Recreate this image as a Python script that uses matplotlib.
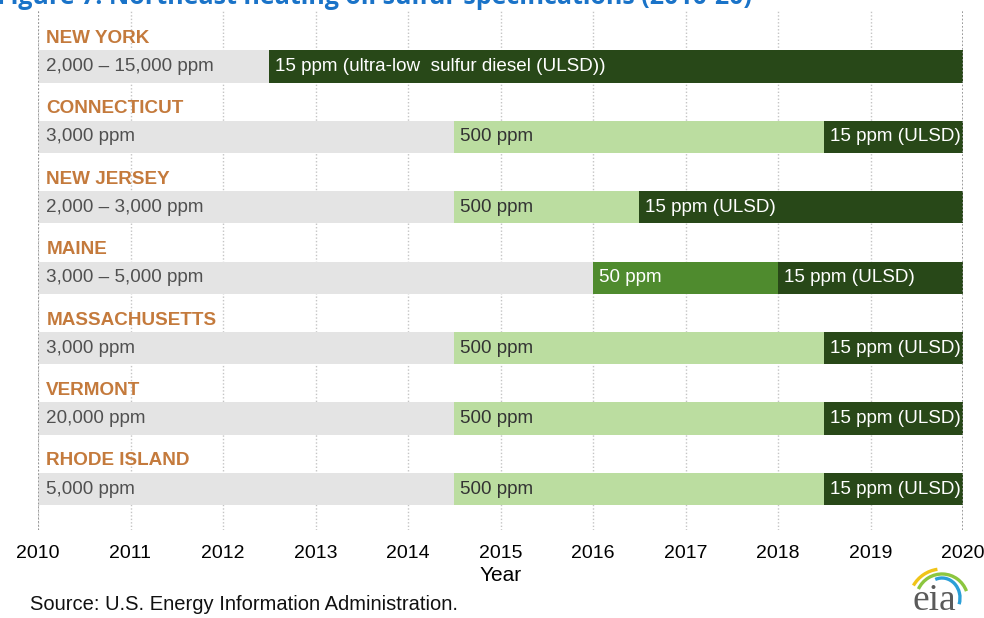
import matplotlib
matplotlib.use("Agg")
import matplotlib.pyplot as plt
from matplotlib.patches import Arc

# ---- data ----
states = ["NEW YORK", "CONNECTICUT", "NEW JERSEY", "MAINE",
          "MASSACHUSETTS", "VERMONT", "RHODE ISLAND"]
start_year = 2010
end_year = 2020
pre_labels = ["2,000 – 15,000 ppm", "3,000 ppm", "2,000 – 3,000 ppm",
              "3,000 – 5,000 ppm", "3,000 ppm", "20,000 ppm", "5,000 ppm"]
phase1_start = [None, 2014.5, 2014.5, 2016.0, 2014.5, 2014.5, 2014.5]
phase1_labels = [None, "500 ppm", "500 ppm", "50 ppm", "500 ppm", "500 ppm", "500 ppm"]
ulsd_start = [2012.5, 2018.5, 2016.5, 2018.0, 2018.5, 2018.5, 2018.5]
ulsd_labels = ["15 ppm (ultra-low  sulfur diesel (ULSD))", "15 ppm (ULSD)",
               "15 ppm (ULSD)", "15 ppm (ULSD)", "15 ppm (ULSD)",
               "15 ppm (ULSD)", "15 ppm (ULSD)"]
years = list(range(2010, 2021))

# ---- style ----
C_GRAY = "#E4E4E4"
C_LIGHT = "#BBDDA0"
C_MED = "#4F8B2E"
C_DARK = "#284818"
C_STATE = "#C47A3C"
NARROW = ["Liberation Sans Narrow", "Liberation Sans", "DejaVu Sans"]
SANS = ["Liberation Sans", "DejaVu Sans"]
FS = 13.6

fig = plt.figure(figsize=(9.84, 6.18), dpi=100)
ax = fig.add_axes([38 / 984, 1 - 530 / 618, 925 / 984, 520 / 618])

bar_h = 0.46
for i, st in enumerate(states):
    first_colored = phase1_start[i] if phase1_start[i] is not None else ulsd_start[i]
    ax.barh(i, first_colored - start_year, left=start_year, height=bar_h,
            color=C_GRAY, zorder=2)
    ax.annotate(pre_labels[i], (start_year, i), xytext=(6, 0), textcoords="offset points",
                va="center", ha="left", fontsize=FS, color="#505050", family=SANS, zorder=5)
    if phase1_start[i] is not None:
        col = C_MED if phase1_labels[i].startswith("50 ") else C_LIGHT
        tcol = "white" if col == C_MED else "#333333"
        ax.barh(i, ulsd_start[i] - phase1_start[i], left=phase1_start[i], height=bar_h,
                color=col, zorder=2)
        ax.annotate(phase1_labels[i], (phase1_start[i], i), xytext=(4, 0),
                    textcoords="offset points", va="center", ha="left",
                    fontsize=FS, color=tcol, family=SANS, zorder=5)
    ax.barh(i, end_year - ulsd_start[i], left=ulsd_start[i], height=bar_h,
            color=C_DARK, zorder=2)
    ax.annotate(ulsd_labels[i], (ulsd_start[i], i), xytext=(4, 0),
                textcoords="offset points", va="center", ha="left",
                fontsize=FS, color="white", family=SANS, zorder=5)
    ax.annotate(st, (start_year, i - 0.40), xytext=(6, 0), textcoords="offset points",
                va="center", ha="left", fontsize=FS, fontweight="bold",
                color=C_STATE, family=SANS, zorder=5)

ax.set_xlim(start_year, end_year)
ax.set_ylim(6.58, -0.80)
ax.set_xticks(years)
ax.set_xticklabels([str(y) for y in years], family=NARROW, fontsize=14)
ax.tick_params(axis="x", length=0, pad=11)
ax.set_yticks([])
for s in ax.spines.values():
    s.set_visible(False)
ax.grid(axis="x", linestyle=(0, (1, 1.5)), color="#C4C4C4", linewidth=1, zorder=0)
ax.set_axisbelow(True)
for xv in (start_year, end_year):
    ax.axvline(xv, color="#8A8A8A", linestyle=(0, (1, 1.2)), linewidth=1.2, zorder=6)

ax.set_xlabel("Year", family=NARROW, fontsize=15, labelpad=3)

# title (partially cut off at the top, as in the reference)
fig.text(-0.003, 1 - 4 / 618, "Figure 7. Northeast heating oil sulfur specifications (2010-20)",
         fontsize=18, fontweight="bold", color="#1A73C8", ha="left", va="baseline",
         family=["Open Sans", "DejaVu Sans"])

fig.text(30 / 984, 1 - 605 / 618, "Source: U.S. Energy Information Administration.",
         fontsize=14.5, family=NARROW, ha="left", va="center", color="#111111")

# eia logo (pixel coordinates inside a small axes)
lax = fig.add_axes([890 / 984, 0, 94 / 984, 63 / 618])
lax.set_xlim(890, 984)
lax.set_ylim(618, 555)
lax.axis("off")
lax.text(934, 610, "eia", fontsize=27, family=["Liberation Serif", "DejaVu Serif"],
         color="#5A5A5A", ha="center", va="baseline")
lax.add_patch(Arc((942, 602), 66, 66, theta1=-150, theta2=-98, color="#F0C419", linewidth=2.4))
lax.add_patch(Arc((942, 600), 52, 52, theta1=-155, theta2=-20, color="#8CC63F", linewidth=2.4))
lax.add_patch(Arc((942, 598), 36, 40, theta1=-110, theta2=20, color="#2A9FD8", linewidth=2.4))

fig.savefig("out.png", dpi=100)
